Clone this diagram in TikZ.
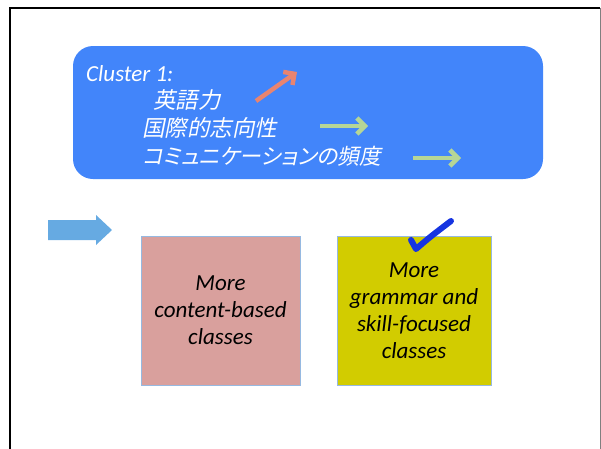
\documentclass[tikz,border=0pt]{standalone}
\usepackage{fontspec}
\setmainfont{Carlito}
\newfontfamily\jpfont[FakeSlant=0.2,RawFeature=+palt]{Noto Sans CJK JP}
\usetikzlibrary{arrows.meta}
\definecolor{clusterblue}{RGB}{66,133,250}
\definecolor{uparrow}{RGB}{232,132,112}
\definecolor{flatarrow}{RGB}{182,214,150}
\definecolor{blockarrow}{RGB}{102,170,226}
\definecolor{pinkbox}{RGB}{217,160,157}
\definecolor{yellowbox}{RGB}{210,204,0}
\definecolor{boxedge}{RGB}{150,185,225}
\definecolor{tickblue}{RGB}{22,52,225}
\tikzset{
  x=1pt, y=-1pt,
  labeltext/.style={font=\fontsize{23}{27}\selectfont\itshape, text=white, anchor=base west, inner sep=0pt},
  jptext/.style={font=\fontsize{22.5}{27}\selectfont\jpfont, text=white, anchor=base west, inner sep=0pt},
  trend/.style={line width=4.5pt, -{Straight Barb[length=8pt,width=16pt,line width=4.5pt]}},
  classbox/.style={draw=boxedge, line width=0.8pt, minimum width=159pt, minimum height=149pt, inner sep=0pt,
    align=center, font=\fontsize{23}{27}\selectfont\itshape, text=black}
}
\begin{document}
\begin{tikzpicture}
\useasboundingbox (0,0) rectangle (601,448);
% slide frame
\draw[black, line width=2pt] (10,449) -- (10,8) -- (600,8);
\draw[gray, line width=0.8pt] (600,8) -- (600,449);
% cluster panel
\node[fill=clusterblue, rounded corners=20pt, minimum width=470pt, minimum height=133pt, inner sep=0pt] (panel) at (308,112.5) {};
\node[labeltext] (cl) at (86,81) {Cluster 1:};
\node[jptext] (eigo) at (153,108) {英語力};
\node[jptext] (kokusai) at (142,136) {国際的志向性};
\node[jptext, font=\fontsize{21.8}{27}\selectfont\jpfont] (comm) at (142,164) {コミュニケーションの頻度};
% trend arrows
\coordinate (u0) at (256,101);
\coordinate (u1) at (297,72);
\draw[trend, uparrow] (u0) -- (u1);
\coordinate (g0) at (320,126);
\coordinate (g1) at (368,126);
\draw[trend, flatarrow] (g0) -- (g1);
\coordinate (h0) at (413,158);
\coordinate (h1) at (461,158);
\draw[trend, flatarrow] (h0) -- (h1);
% block arrow
\fill[blockarrow] (48,220) -- (96,220) -- (96,215) -- (112,230) -- (96,245) -- (96,240) -- (48,240) -- cycle;
% class boxes
\node[classbox, fill=pinkbox] (content) at (220.5,310.5) {More\\content-based\\classes};
\node[classbox, fill=yellowbox, minimum width=154pt] (grammar) at (414,310.5) {More\\grammar and\\skill-focused\\classes};
% tick mark
\coordinate (t0) at (411,240);
\coordinate (t1) at (416,249);
\coordinate (t2) at (451,221);
\draw[tickblue, line width=6pt, line cap=round, line join=round] (t0) -- (t1) .. controls (430,237) .. (t2);
\end{tikzpicture}
\end{document}
